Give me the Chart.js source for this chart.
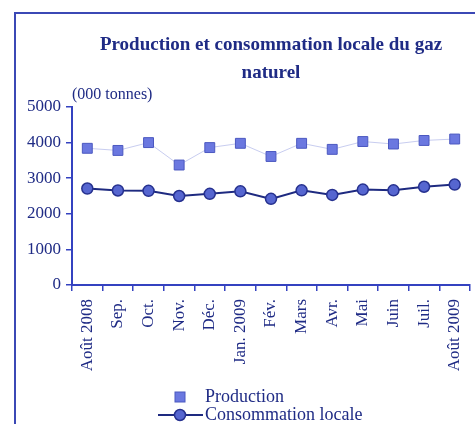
<!DOCTYPE html>
<html><head><meta charset="utf-8">
<script src="https://cdn.jsdelivr.net/npm/chart.js@4/dist/chart.umd.min.js"></script>
<style>html,body{margin:0;padding:0;background:#fff;}#wrap{width:475px;height:424px;}</style>
</head><body><div id="wrap"><canvas id="c" width="475" height="424"></canvas></div>
<script>
const categories = ['Août 2008','Sep.','Oct.','Nov.','Déc.','Jan. 2009','Fév.','Mars','Avr.','Mai','Juin','Juil.','Août 2009'];
const production = [3840,3780,4000,3370,3860,3980,3610,3980,3810,4030,3960,4060,4100];
const consommation = [2710,2655,2645,2500,2560,2630,2420,2660,2530,2680,2660,2760,2820];
const yTicks = [0,1000,2000,3000,4000,5000];
const titleLines = ['Production et consommation locale du gaz','naturel'];
const unitLabel = '(000 tonnes)';
const seriesNames = ['Production','Consommation locale'];

const NAVY = '#1f2b85';
const AXIS = '#3442c0';
const SERIF = "'Liberation Serif', 'DejaVu Serif', serif";

const prodStyle = {line:'#c8cdf0', fill:'#6b78e0', border:'#4b58c0'};
const consStyle = {line:'#1e2a80', fill:'#5666d0', border:'#26318f'};

const framePlugin = {
  id:'frame',
  beforeDraw(chart){
    const ctx = chart.ctx;
    ctx.save();
    ctx.fillStyle = '#fff';
    ctx.fillRect(0,0,chart.width,chart.height);
    ctx.strokeStyle = '#3b48b5';
    ctx.lineWidth = 2;
    ctx.beginPath();
    ctx.moveTo(15, chart.height);
    ctx.lineTo(15, 13);
    ctx.lineTo(chart.width, 13);
    ctx.stroke();
    ctx.restore();
  }
};

const legendPlugin = {
  id:'customLegend',
  afterDraw(chart){
    const ctx = chart.ctx;
    ctx.save();
    ctx.font = '18px ' + SERIF;
    ctx.fillStyle = NAVY;
    ctx.textBaseline = 'middle';
    ctx.textAlign = 'left';
    const mx = 180, tx = 205, y1 = 397, y2 = 415;
    ctx.fillStyle = prodStyle.fill;
    ctx.strokeStyle = prodStyle.border;
    ctx.lineWidth = 1;
    ctx.fillRect(mx-5, y1-5, 10, 10);
    ctx.strokeRect(mx-5, y1-5, 10, 10);
    ctx.fillStyle = NAVY;
    ctx.fillText(seriesNames[0], tx, y1);
    ctx.strokeStyle = consStyle.line;
    ctx.lineWidth = 2;
    ctx.beginPath(); ctx.moveTo(158, y2); ctx.lineTo(203, y2); ctx.stroke();
    ctx.beginPath(); ctx.arc(mx, y2, 5.5, 0, Math.PI*2);
    ctx.fillStyle = consStyle.fill; ctx.fill();
    ctx.strokeStyle = consStyle.border; ctx.lineWidth = 1.5; ctx.stroke();
    ctx.fillStyle = NAVY;
    ctx.fillText(seriesNames[1], tx, y2);
    ctx.restore();
  }
};

new Chart(document.getElementById('c'), {
  type:'line',
  data:{
    labels: categories,
    datasets:[
      {label: seriesNames[0], data: production, borderColor: prodStyle.line, borderWidth:1,
       pointStyle:'rect', pointRadius:7, pointBackgroundColor: prodStyle.fill,
       pointBorderColor: prodStyle.border, pointBorderWidth:1, tension:0},
      {label: seriesNames[1], data: consommation, borderColor: consStyle.line, borderWidth:2,
       pointStyle:'circle', pointRadius:5.5, pointBackgroundColor: consStyle.fill,
       pointBorderColor: consStyle.border, pointBorderWidth:1.5, tension:0}
    ]
  },
  options:{
    responsive:false,
    animation:false,
    layout:{autoPadding:false, padding:{left:0,right:5,top:0,bottom:0}},
    plugins:{
      legend:{display:false},
      tooltip:{enabled:false},
      title:{display:true, text:titleLines, fullSize:false, color:NAVY,
        font:{family:SERIF, size:19, weight:'bold', lineHeight:28/19},
        padding:{top:31,bottom:0}},
      subtitle:{display:true, text:unitLabel, align:'start', fullSize:false, color:NAVY,
        font:{family:SERIF, size:16, lineHeight:1},
        padding:{top:0,bottom:4}}
    },
    scales:{
      x:{
        type:'category', offset:true,
        grid:{offset:true, drawOnChartArea:false, drawTicks:true, tickLength:6, color:AXIS, lineWidth:1.5},
        border:{color:AXIS, width:2},
        ticks:{minRotation:90, maxRotation:90, autoSkip:false, color:NAVY, padding:8,
          font:{family:SERIF, size:17}},
        afterFit(s){ s.height = 139; s.paddingLeft = 0; s.paddingRight = 0; }
      },
      y:{
        min:0, max:5000,
        afterBuildTicks(s){ s.ticks = yTicks.map(v=>({value:v})); },
        grid:{drawOnChartArea:false, drawTicks:true, tickLength:6, color:AXIS, lineWidth:1.5},
        border:{color:AXIS, width:2},
        ticks:{color:NAVY, padding:5, font:{family:SERIF, size:17},
          callback:(v)=>String(v)},
        afterFit(s){ s.width = 72; s.paddingTop = 0; s.paddingBottom = 0; }
      }
    }
  },
  plugins:[framePlugin, legendPlugin]
});
</script></body></html>
